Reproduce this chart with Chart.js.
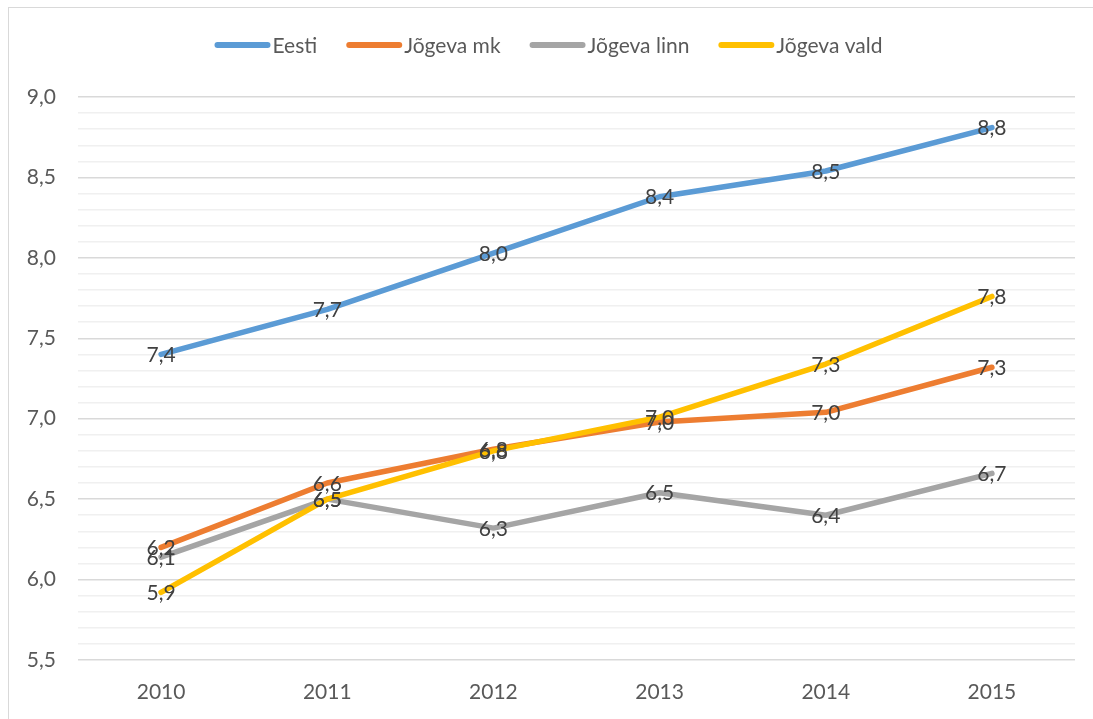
<!DOCTYPE html>
<html>
<head>
<meta charset="utf-8">
<script src="https://cdn.jsdelivr.net/npm/chart.js@4"></script>
<style>
html,body{margin:0;padding:0;background:#fff;overflow:hidden;}
#wrap{position:relative;width:1093px;height:719px;}
#frame{position:absolute;left:8px;top:7px;width:1100px;height:730px;border:1px solid #d9d9d9;box-sizing:border-box;}
canvas{position:absolute;left:0;top:0;}
</style>
</head>
<body>
<div id="wrap"><div id="frame"></div><canvas id="c" width="1093" height="719"></canvas></div>
<script>
const categories = ['2010','2011','2012','2013','2014','2015'];
const seriesNames = ['Eesti','Jõgeva mk','Jõgeva linn','Jõgeva vald'];
const eesti = [7.40, 7.68, 8.03, 8.38, 8.54, 8.81];
const jogevaMk = [6.20, 6.60, 6.81, 6.98, 7.04, 7.32];
const jogevaLinn = [6.14, 6.50, 6.32, 6.54, 6.40, 6.66];
const jogevaVald = [5.92, 6.50, 6.80, 7.01, 7.34, 7.76];
const colors = ['#5B9BD5','#ED7D31','#A5A5A5','#FFC000'];
const yMin = 5.5, yMax = 9.0, yMinorStep = 0.1, yMajorStep = 0.5;

const FONT = 'Lato, "Liberation Sans", sans-serif';
const FS = 21;
const fmt = v => v.toFixed(1).replace('.', ',');
const isMajor = v => Math.abs(v / yMajorStep - Math.round(v / yMajorStep)) < 1e-6;

const allSeries = [eesti, jogevaMk, jogevaLinn, jogevaVald];
const datasets = allSeries.map((d, i) => ({
  label: seriesNames[i],
  data: d,
  borderColor: colors[i],
  backgroundColor: colors[i],
  borderWidth: 5.5,
  borderCapStyle: 'round',
  borderJoinStyle: 'round',
  pointRadius: 0,
  tension: 0,
  order: 3 - i
}));

const dataLabels = {
  id: 'dataLabels',
  afterDatasetsDraw(chart) {
    const ctx = chart.ctx;
    ctx.save();
    ctx.font = FS + 'px ' + FONT;
    ctx.fillStyle = '#404040';
    ctx.textAlign = 'center';
    ctx.textBaseline = 'middle';
    chart.data.datasets.forEach((ds, i) => {
      const meta = chart.getDatasetMeta(i);
      meta.data.forEach((pt, j) => {
        ctx.fillText(fmt(ds.data[j]), pt.x, pt.y + 1);
      });
    });
    ctx.restore();
  }
};

const customLegend = {
  id: 'customLegend',
  afterDraw(chart) {
    const ctx = chart.ctx;
    ctx.save();
    ctx.font = FS + 'px ' + FONT;
    const markLen = 56, gapText = 2, gapItem = 29;
    const items = chart.data.datasets.map(ds => ({label: ds.label, color: ds.borderColor, w: ctx.measureText(ds.label).width}));
    let total = items.reduce((s, it) => s + markLen + gapText + it.w, 0) + gapItem * (items.length - 1);
    let x = (chart.width - total) / 2 + 2;
    const y = 45;
    items.forEach(it => {
      ctx.strokeStyle = it.color;
      ctx.lineWidth = 6;
      ctx.lineCap = 'round';
      ctx.beginPath();
      ctx.moveTo(x + 3, y);
      ctx.lineTo(x + markLen - 3, y);
      ctx.stroke();
      ctx.fillStyle = '#595959';
      ctx.textBaseline = 'middle';
      ctx.textAlign = 'left';
      ctx.fillText(it.label, x + markLen + gapText, y + 1);
      x += markLen + gapText + it.w + gapItem;
    });
    ctx.restore();
  }
};

new Chart(document.getElementById('c'), {
  type: 'line',
  data: { labels: categories, datasets },
  options: {
    responsive: false,
    animation: false,
    devicePixelRatio: 1,
    layout: { padding: { left: 8, right: 18, top: 97, bottom: 0 } },
    plugins: { legend: { display: false }, tooltip: { enabled: false } },
    scales: {
      x: {
        offset: true,
        grid: { display: false, drawTicks: false },
        border: { display: false },
        ticks: { color: '#595959', font: { size: FS, family: FONT }, padding: 20, maxRotation: 0 },
        afterFit(s) { s.height = 59; }
      },
      y: {
        min: yMin, max: yMax,
        border: { display: false },
        grid: {
          drawTicks: false,
          lineWidth: 1.5,
          color: c => (c.tick && isMajor(c.tick.value)) ? '#d9d9d9' : '#f0f0f0'
        },
        ticks: {
          stepSize: yMinorStep,
          autoSkip: false,
          color: '#595959',
          font: { size: FS, family: FONT },
          padding: 22,
          callback: v => isMajor(v) ? fmt(v) : ''
        },
        afterFit(s) { s.width = 70; }
      }
    }
  },
  plugins: [dataLabels, customLegend]
});
</script>
</body>
</html>
